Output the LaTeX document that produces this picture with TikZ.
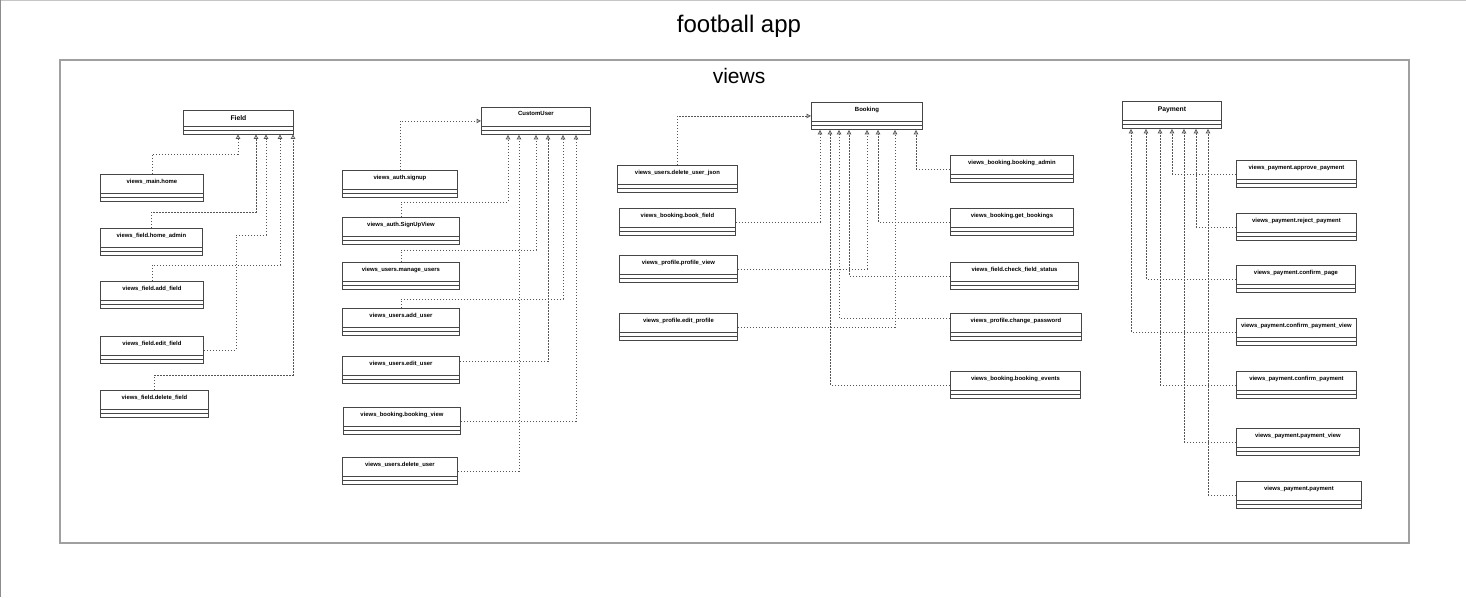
\documentclass[tikz,border=0pt]{standalone}
\usepackage{fontspec}
\setmainfont{Liberation Sans}
\usetikzlibrary{arrows.meta}

\definecolor{boxline}{RGB}{70,70,70}
\definecolor{linkline}{RGB}{85,85,85}
\definecolor{framegray}{RGB}{160,160,160}

\newcommand{\titlefont}{\fontsize{24}{28}\selectfont}
\newcommand{\pkgfont}{\fontsize{21}{25}\selectfont}
\newcommand{\clsfont}{\fontsize{5.9}{7}\selectfont\bfseries}
\newcommand{\bigclsfont}{\fontsize{6.8}{8}\selectfont\bfseries}
\newcommand{\smallclsfont}{\fontsize{6}{7}\selectfont\bfseries}

\tikzset{
  cls/.style={draw=boxline, line width=0.9pt, fill=white, anchor=north west,
    inner sep=0pt, minimum height=#1pt+8pt, text height=5pt, text depth=13.4pt,
    font=\clsfont,
    path picture={
      \draw[boxline, line width=0.9pt]
        ([yshift=-#1pt]path picture bounding box.north west) -- ([yshift=-#1pt]path picture bounding box.north east)
        ([yshift=-#1pt-4pt]path picture bounding box.north west) -- ([yshift=-#1pt-4pt]path picture bounding box.north east);
    }},
  cls/.default=19,
  wd/.style={minimum width=#1pt},
  impl/.style={draw=linkline, line width=0.8pt, dash pattern=on 1.5pt off 1.5pt,
    -{Triangle[open, length=4.5pt, width=4.5pt]}},
}

\begin{document}
\begin{tikzpicture}[x=1pt, y=-1pt]
    \useasboundingbox (0,0) rectangle (1466,597);
    % page edges
    \draw[gray!45, line width=1pt] (0,0.5) -- (1466,0.5);
    \draw[gray!90, line width=1pt] (0.5,0) -- (0.5,597);

    \node[font=\titlefont, anchor=base] (title) at (739,32) {football app};

    % package frame
    \draw[framegray, line width=1.2pt] (60,60) rectangle (1409,543);
    \node[font=\pkgfont, anchor=base] (pkg) at (739,83) {views};

    % Field
    \node[cls=15.5, wd=110, font=\bigclsfont, text depth=7.5pt] (field) at (183,110) {Field};
    \node[cls, wd=103] (home) at (100,174) {views\_main.home};
    \node[cls, wd=102] (homeadmin) at (100,228) {views\_field.home\_admin};
    \node[cls, wd=103] (addfield) at (100,281) {views\_field.add\_field};
    \node[cls, wd=103] (editfield) at (100,336) {views\_field.edit\_field};
    \node[cls, wd=108] (delfield) at (100,390) {views\_field.delete\_field};

    \draw[impl] (home.north) -- ++(0,-20) -| ([xshift=55pt]field.south west);
    \draw[impl] (homeadmin.north) -- ++(0,-16) -| ([xshift=73pt]field.south west);
    \draw[impl] (addfield.north) -- ++(0,-16) -| ([xshift=97pt]field.south west);
    \draw[impl] (editfield.east) -| (236,235) -| ([xshift=83pt]field.south west);
    \draw[impl] (delfield.north) -- ++(0,-15) -| ([xshift=110pt]field.south west);

    % CustomUser
    \node[cls, wd=109, font=\smallclsfont, text depth=15pt] (customuser) at (481,107) {CustomUser};
    \node[cls, wd=115] (signup) at (342,170) {views\_auth.signup};
    \node[cls, wd=117] (signupview) at (342,217) {views\_auth.SignUpView};
    \node[cls, wd=117] (manageusers) at (342,262) {views\_users.manage\_users};
    \node[cls, wd=117] (adduser) at (342,308) {views\_users.add\_user};
    \node[cls, wd=117] (edituser) at (342,356) {views\_users.edit\_user};
    \node[cls, wd=117] (bookingview) at (343,407) {views\_booking.booking\_view};
    \node[cls, wd=115] (deluser) at (342,457) {views\_users.delete\_user};

    \draw[impl] (signup.north) |- (customuser.west);
    \draw[impl] (signupview.north) -- ++(0,-15) -| ([xshift=27pt]customuser.south west);
    \draw[impl] (manageusers.north) -- ++(0,-12) -| ([xshift=55pt]customuser.south west);
    \draw[impl] (adduser.north) -- ++(0,-9) -| ([xshift=82pt]customuser.south west);
    \draw[impl] ([yshift=8.5pt]edituser.east) -| ([xshift=67pt]customuser.south west);
    \draw[impl] (bookingview.east) -| ([xshift=95pt]customuser.south west);
    \draw[impl] (deluser.east) -| ([xshift=38pt]customuser.south west);

    % Booking
    \node[cls, wd=111, font=\smallclsfont, text depth=14pt] (booking) at (811,102) {Booking};
    \node[cls, wd=120] (deluserjson) at (617,165) {views\_users.delete\_user\_json};
    \node[cls, wd=116] (bookfield) at (619,208) {views\_booking.book\_field};
    \node[cls, wd=118] (profileview) at (619,255) {views\_profile.profile\_view};
    \node[cls, wd=118] (editprofile) at (619,313) {views\_profile.edit\_profile};
    \node[cls, wd=123] (bookingadmin) at (950,155) {views\_booking.booking\_admin};
    \node[cls, wd=123] (getbookings) at (950,208) {views\_booking.get\_bookings};
    \node[cls, wd=128] (checkfield) at (950,262) {views\_field.check\_field\_status};
    \node[cls, wd=131] (changepw) at (950,313) {views\_profile.change\_password};
    \node[cls, wd=130] (bookingevents) at (950,371) {views\_booking.booking\_events};

    \draw[impl] (deluserjson.north) |- (booking.west);
    \draw[impl] (bookfield.east) -| ([xshift=9pt]booking.south west);
    \draw[impl] (profileview.east) -| ([xshift=56pt]booking.south west);
    \draw[impl] (editprofile.east) -| ([xshift=84pt]booking.south west);
    \draw[impl] (bookingadmin.west) -| ([xshift=105pt]booking.south west);
    \draw[impl] (getbookings.west) -| ([xshift=67pt]booking.south west);
    \draw[impl] (checkfield.west) -| ([xshift=38pt]booking.south west);
    \draw[impl] ([yshift=8.5pt]changepw.west) -| ([xshift=28pt]booking.south west);
    \draw[impl] (bookingevents.west) -| ([xshift=19pt]booking.south west);

    % Payment
    \node[cls, wd=99, font=\bigclsfont, text depth=11pt] (payment) at (1122,101) {Payment};
    \node[cls, wd=120] (approve) at (1236,160) {views\_payment.approve\_payment};
    \node[cls, wd=120] (reject) at (1236,213) {views\_payment.reject\_payment};
    \node[cls, wd=119] (confirmpage) at (1236,265) {views\_payment.confirm\_page};
    \node[cls, wd=120] (confirmview) at (1236,318) {views\_payment.confirm\_payment\_view};
    \node[cls, wd=120] (confirmpay) at (1236,371) {views\_payment.confirm\_payment};
    \node[cls, wd=123] (paymentview) at (1236,428) {views\_payment.payment\_view};
    \node[cls, wd=125] (paymentfn) at (1236,481) {views\_payment.payment};

    \draw[impl] (approve.west) -| ([xshift=50pt]payment.south west);
    \draw[impl] (reject.west) -| ([xshift=74pt]payment.south west);
    \draw[impl] (confirmpage.west) -| ([xshift=24pt]payment.south west);
    \draw[impl] (confirmview.west) -| ([xshift=9pt]payment.south west);
    \draw[impl] (confirmpay.west) -| ([xshift=38pt]payment.south west);
    \draw[impl] (paymentview.west) -| ([xshift=62pt]payment.south west);
    \draw[impl] (paymentfn.west) -| ([xshift=86pt]payment.south west);
\end{tikzpicture}
\end{document}
